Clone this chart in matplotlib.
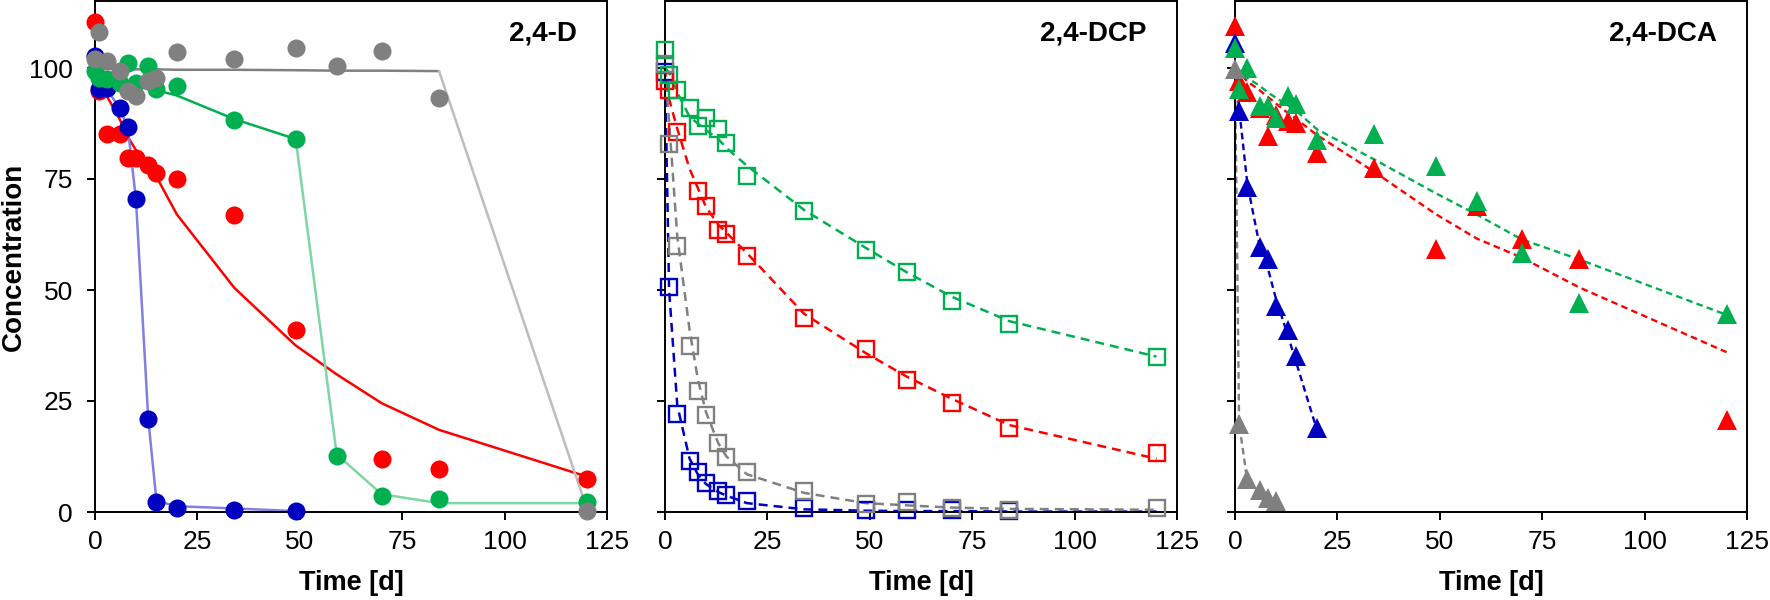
import matplotlib
matplotlib.use("Agg")
import matplotlib.pyplot as plt

plt.rcParams['font.family'] = ['Liberation Sans', 'DejaVu Sans']

# ---------------- data ----------------
t_all = [0, 1, 3, 6, 8, 10, 13, 15, 20, 34, 49, 59, 70, 84, 120]

# Panel 1: 2,4-D (measured, circles)
d_red_t = [0, 1, 3, 6, 8, 10, 13, 15, 20, 34, 49, 70, 84, 120]
d_red = [110.3, 94.8, 85.1, 85.1, 79.8, 79.8, 78.1, 76.4, 75.1, 66.9, 41.1, 12.0, 9.7, 7.4]
d_blue_t = [0, 1, 3, 6, 8, 10, 13, 15, 20, 34, 49]
d_blue = [102.7, 95.2, 95.6, 91.0, 86.7, 70.4, 20.9, 2.3, 1.0, 0.5, 0.2]
d_green = [99.3, 97.8, 97.5, 96.7, 101.2, 96.7, 100.5, 95.2, 96.0, 88.3, 84.1, 12.7, 3.7, 2.9, 2.2]
d_gray = [102.0, 108.0, 101.6, 99.3, 94.8, 93.7, 97.1, 97.8, 103.6, 102.0, 104.6, 100.5, 103.9, 93.2, 0.2]
# Panel 1 model lines
fit_d_red = [100, 97.5, 93.5, 88.5, 84.5, 81.5, 78, 75.5, 67, 50.5, 37.5, 31, 24.5, 18.5, 8]
fit_d_blue = [98, 96.5, 95, 91, 86.7, 70.4, 21, 2.5, 1.3, 0.8, 0.2]
fit_d_green = [99, 98.7, 98, 97, 96.5, 96, 95.3, 95, 93.8, 88.5, 84, 13, 4, 2, 2]
fit_d_gray = [99.8, 99.8, 99.8, 99.8, 99.7, 99.7, 99.7, 99.7, 99.6, 99.6, 99.5, 99.4, 99.4, 99.3, 1.0]

# Panel 2: 2,4-DCP (measured, open squares)
p_red_t = [0, 1, 3, 8, 10, 13, 15, 20, 34, 49, 59, 70, 84, 120]
p_red = [97, 95, 85.6, 72.3, 69, 63.6, 62.6, 57.6, 43.7, 36.6, 29.8, 24.5, 19.0, 13.2]
p_blue_t = [0, 1, 3, 6, 8, 10, 13, 15, 20, 34, 49, 59, 70, 84]
p_blue = [99, 50.7, 22, 11.4, 9.1, 6.5, 4.7, 3.8, 2.5, 1.0, 0.5, 0.5, 0.5, 0.2]
p_gray = [100.9, 82.8, 59.9, 37.5, 27.3, 21.9, 15.5, 12.5, 8.9, 4.8, 1.8, 2.3, 0.8, 0.5, 0.8]
p_green = [104, 98.4, 95.1, 90.9, 86.9, 88.8, 86.2, 83.0, 75.7, 67.9, 59.1, 54.0, 47.5, 42.4, 35.0]
# Panel 2 model lines
fit_p_red = [100, 93, 86.3, 77.3, 73, 68.7, 64.7, 62.9, 58.3, 44.6, 35.8, 30.5, 25.5, 19.6, 12]
fit_p_blue = [100, 50, 24, 12, 8.5, 6.3, 4.5, 3.7, 2, 0.6, 0.3, 0.2, 0.2, 0.1, 0.1]
fit_p_gray = [100, 88, 62, 41, 30, 22.5, 15.5, 12.5, 8.5, 4.3, 2, 1.5, 1, 0.7, 0.5]
fit_p_green = [100, 99, 94.5, 89, 87.5, 86, 84, 82, 78, 68, 59.5, 54, 48.5, 43, 35]

# Panel 3: 2,4-DCA (measured, filled triangles)
a_red = [109.5, 97, 94.5, 91, 84.7, 89.5, 88, 87.7, 80.8, 77.5, 59.3, 68.9, 61.5, 57, 20.8]
a_green = [104.4, 95.2, 100.1, 91.4, 91.4, 88.8, 93.7, 91.8, 83.8, 85.1, 77.9, 70, 58.4, 47.1, 44.7]
a_blue_t = [0, 1, 3, 6, 8, 10, 13, 15, 20]
a_blue = [105.7, 90.3, 73.3, 59.7, 57, 46.3, 41.1, 35.2, 19]
a_gray_t = [0, 1, 3, 6, 8, 10]
a_gray = [99.7, 19.9, 7.4, 5, 3.1, 2.5]
# Panel 3 model lines
fit_a_red = [100, 99, 97, 95, 93.5, 92, 89.8, 88.5, 84.9, 76.6, 67.1, 61.6, 57.3, 50.6, 36]
fit_a_green = [100, 99.5, 97.8, 96, 94.5, 93.3, 91.5, 90.3, 86.2, 79.4, 71.8, 67, 61.4, 56.9, 44.4]
fit_a_blue = [100, 91, 74, 60, 55, 48, 39.5, 33.5, 18.5]
fit_a_gray = [100, 20, 7, 4.5, 3.3, 2.5]

titles = ['2,4-D', '2,4-DCP', '2,4-DCA']
x_ticks = [0, 25, 50, 75, 100, 125]
y_ticks = [0, 25, 50, 75, 100]

# ---------------- style ----------------
RED = '#ff0000'
GREEN = '#00b050'
BLUE = '#0000c0'
GRAY = '#808080'
LGREEN = '#7fd6a5'
LBLUE = '#8080de'
LGRAY = '#bdbdbd'

W, H = 1770, 600
fig = plt.figure(figsize=(W / 100, H / 100), dpi=100)
lefts = [95, 665, 1235]
axes = []
for l in lefts:
    ax = fig.add_axes([l / W, (H - 512) / H, 512 / W, 510.6 / H])
    axes.append(ax)

LW = 1.8
MS_C = 13
MS_S = 11.3
MS_T = 14.5
DASH2 = (3.6, 2.4)
DASH3 = (2.8, 1.8)

# Panel 1
ax = axes[0]
def seg(ax, x, y, c, **kw):
    ax.plot(x, y, color=c, lw=LW, zorder=2, clip_on=False, solid_capstyle='round', **kw)

seg(ax, t_all, fit_d_red, RED)
seg(ax, d_blue_t, fit_d_blue, LBLUE)
seg(ax, t_all[:11], fit_d_green[:11], GREEN)
seg(ax, t_all[10:], fit_d_green[10:], LGREEN)
seg(ax, t_all[:14], fit_d_gray[:14], GRAY)
seg(ax, t_all[13:], fit_d_gray[13:], LGRAY)
for x, y, c in [(d_red_t, d_red, RED), (d_blue_t, d_blue, BLUE),
                (t_all, d_green, GREEN), (t_all, d_gray, GRAY)]:
    ax.plot(x, y, 'o', ms=MS_C, mfc=c, mec=c, mew=0, zorder=3, clip_on=False)

# Panel 2
ax = axes[1]
for x, y, c in [(t_all, fit_p_blue, BLUE), (t_all, fit_p_red, RED),
                (t_all, fit_p_gray, GRAY), (t_all, fit_p_green, GREEN)]:
    ax.plot(x, y, color=c, lw=LW, ls=(0, DASH2), zorder=2, clip_on=False)
for x, y, c in [(p_blue_t, p_blue, BLUE), (p_red_t, p_red, RED),
                (t_all, p_gray, GRAY), (t_all, p_green, GREEN)]:
    ax.plot(x, y, 's', ms=MS_S, mfc='none', mec=c, mew=1.7, zorder=3, clip_on=False)

# Panel 3
ax = axes[2]
for x, y, c in [(t_all, fit_a_red, RED), (t_all, fit_a_green, GREEN),
                (a_blue_t, fit_a_blue, BLUE), (a_gray_t, fit_a_gray, GRAY)]:
    ax.plot(x, y, color=c, lw=1.7, ls=(0, DASH3), zorder=2, clip_on=False)
for x, y, c in [(t_all, a_red, RED), (a_blue_t, a_blue, BLUE),
                (t_all, a_green, GREEN), (a_gray_t, a_gray, GRAY)]:
    ax.plot(x, y, '^', ms=MS_T, mfc=c, mec=c, mew=0, zorder=3, clip_on=False)

for i, ax in enumerate(axes):
    ax.set_xlim(0, 125)
    ax.set_ylim(0, 115)
    ax.set_xticks(x_ticks)
    ax.set_yticks(y_ticks)
    for s in ax.spines.values():
        s.set_linewidth(1.4)
        s.set_color('black')
    ax.tick_params(axis='both', direction='out', length=5.8, width=1.4,
                   labelsize=19, colors='black')
    ax.tick_params(axis='x', pad=7.5)
    ax.tick_params(axis='y', pad=10)
    if i > 0:
        ax.tick_params(axis='y', labelleft=False)
    ax.set_xlabel('Time [d]', fontsize=19.5, fontweight='bold')
    ax.xaxis.set_label_coords(0.5, -0.113)
    ax.text(0.941, 0.9375, titles[i], transform=ax.transAxes, ha='right',
            va='center', fontsize=20, fontweight='bold')

axes[0].set_ylabel('Concentration', fontsize=20, fontweight='bold')
axes[0].yaxis.set_label_coords(-0.133, 0.5)

fig.savefig('out.png', dpi=100)
